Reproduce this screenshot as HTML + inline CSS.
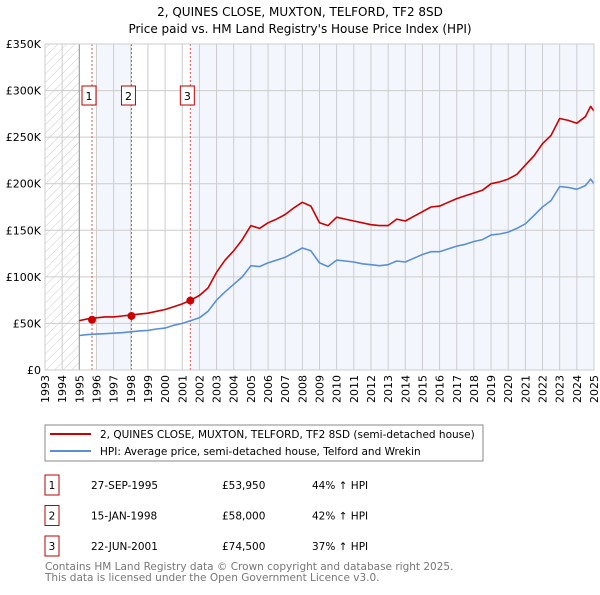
<!DOCTYPE html>
<html><head><meta charset="utf-8"><style>
body{margin:0;background:#fff;}
svg{font-family:"DejaVu Sans","Liberation Sans",sans-serif;}
</style></head><body>
<svg id="c" width="600" height="590" viewBox="0 0 600 590" xmlns="http://www.w3.org/2000/svg">
<defs><pattern id="hatch" width="6" height="6" patternUnits="userSpaceOnUse" patternTransform="rotate(45)"><line x1="0" y1="0" x2="0" y2="6" stroke="#ccc" stroke-width="1"/></pattern></defs>
<text x="300" y="16" text-anchor="middle" font-size="12">2, QUINES CLOSE, MUXTON, TELFORD, TF2 8SD</text>
<text x="300" y="33" text-anchor="middle" font-size="12">Price paid vs. HM Land Registry's House Price Index (HPI)</text>
<g id="plot"></g>
<g id="legend">
<rect x="45" y="425" width="438" height="36" fill="#fff" stroke="#888"/>
<line x1="50" y1="434" x2="91" y2="434" stroke="#cc0000" stroke-width="2"/>
<text x="100" y="438" font-size="10.5">2, QUINES CLOSE, MUXTON, TELFORD, TF2 8SD (semi-detached house)</text>
<line x1="50" y1="451" x2="91" y2="451" stroke="#5b8fd4" stroke-width="2"/>
<text x="100" y="455" font-size="10.5">HPI: Average price, semi-detached house, Telford and Wrekin</text>
</g>
<g id="table" font-size="10.5"></g>
<text x="45" y="570" font-size="10.5" fill="#777">Contains HM Land Registry data © Crown copyright and database right 2025.</text>
<text x="45" y="581" font-size="10.5" fill="#777">This data is licensed under the Open Government Licence v3.0.</text>
</svg>
<script>
const years=[1993,1994,1995,1996,1997,1998,1999,2000,2001,2002,2003,2004,2005,2006,2007,2008,2009,2010,2011,2012,2013,2014,2015,2016,2017,2018,2019,2020,2021,2022,2023,2024,2025];
const yTicks=[0,50000,100000,150000,200000,250000,300000,350000];
const yTickLabels=["£0","£50K","£100K","£150K","£200K","£250K","£300K","£350K"];
const t=[1995.0,1995.5,1996,1996.5,1997,1997.5,1998,1998.5,1999,1999.5,2000,2000.5,2001,2001.5,2002,2002.5,2003,2003.5,2004,2004.5,2005,2005.5,2006,2006.5,2007,2007.5,2008,2008.5,2009,2009.5,2010,2010.5,2011,2011.5,2012,2012.5,2013,2013.5,2014,2014.5,2015,2015.5,2016,2016.5,2017,2017.5,2018,2018.5,2019,2019.5,2020,2020.5,2021,2021.5,2022,2022.5,2023,2023.5,2024,2024.5,2024.8,2025];
const hpi=[37,38,38.5,39,39.5,40,41,42,42.5,44,45,48,50,53,56,63,75,84,92,100,112,111,115,118,121,126,131,128,115,111,118,117,116,114,113,112,113,117,116,120,124,127,127,130,133,135,138,140,145,146,148,152,157,166,175,182,197,196,194,198,205,200];
const price=[53,55,56,57,57,58,59,60,61,63,65,68,71,75,80,88,105,118,128,140,155,152,158,162,167,174,180,176,158,155,164,162,160,158,156,155,155,162,160,165,170,175,176,180,184,187,190,193,200,202,205,210,220,230,243,252,270,268,265,272,283,278];
const saleT=[1995.74,1998.04,2001.47];
const saleP=[53950,58000,74500];
const saleLabels=["1","2","3"];
const saleDates=["27-SEP-1995","15-JAN-1998","22-JUN-2001"];
const salePrices=["£53,950","£58,000","£74,500"];
const saleHpi=["44% ↑ HPI","42% ↑ HPI","37% ↑ HPI"];

const X0=45,X1=594,Y0=370,Y1=44;
const xs=v=>X0+(v-1993)/(2025-1993)*(X1-X0);
const ys=v=>Y0-v/350000*(Y0-Y1);
const NS="http://www.w3.org/2000/svg";
const plot=document.getElementById('plot');
function mk(tag,attrs,parent){const e=document.createElementNS(NS,tag);for(const k in attrs)e.setAttribute(k,attrs[k]);(parent||plot).appendChild(e);return e;}

let r=mk('rect',{x:xs(1993),y:Y1,width:xs(1995)-xs(1993),height:Y0-Y1,fill:'url(#hatch)'});


r=mk('rect',{x:xs(1996),y:Y1,width:xs(1998.04)-xs(1996),height:Y0-Y1,fill:'#f3f7fd'});


r=mk('rect',{x:xs(2001.47),y:Y1,width:xs(2025)-xs(2001.47),height:Y0-Y1,fill:'#f3f7fd'});



years.forEach(y=>{
  const g=mk('line',{x1:xs(y),x2:xs(y),y1:Y1,y2:Y0,stroke:'#ccc','stroke-width':1});
  
  
  const tx=mk('text',{x:0,y:0,'font-size':11,'text-anchor':'end',transform:`translate(${xs(y)+4},${Y0+5}) rotate(-90)`});
  tx.textContent=y;
  
  
});
yTicks.forEach((v,i)=>{
  const g=mk('line',{x1:X0,x2:X1,y1:ys(v),y2:ys(v),stroke:'#ccc','stroke-width':1});
  
  
  const tx=mk('text',{x:X0-4,y:ys(v)+4,'font-size':11,'text-anchor':'end'});
  tx.textContent=yTickLabels[i];
  
  
});
let ax=mk('line',{x1:xs(1995),x2:xs(1995),y1:Y1,y2:Y0,stroke:'#999'});



saleT.forEach((s,i)=>{
  const l=mk('line',{x1:xs(s),x2:xs(s),y1:Y1,y2:Y0,stroke:'#e05050','stroke-dasharray':'2,2','stroke-width':1});
  
  
  const b=mk('rect',{x:xs(s)-10,y:86,width:14,height:19,fill:'#fff',stroke:'#b00'});
  
  
  const tx=mk('text',{x:xs(s)-3,y:100,'font-size':11,'text-anchor':'middle'});
  tx.textContent=saleLabels[i];
  
  
});

const line=(arr,col,name)=>{
  const p=mk('polyline',{points:t.map((v,i)=>xs(v).toFixed(1)+','+ys(arr[i]*1000).toFixed(1)).join(' '),fill:'none',stroke:col,'stroke-width':1.6,'stroke-linejoin':'round'});
  
  
};
line(hpi,'#5b8fd4','hpi-line');
line(price,'#cc0000','price-line');
saleT.forEach((s,i)=>{
  const c=mk('circle',{cx:xs(s),cy:ys(saleP[i]),r:4,fill:'#cc0000'});
  
  
});
let bd=mk('rect',{x:X0,y:Y1,width:X1-X0,height:Y0-Y1,fill:'none',stroke:'#ccc'});



const tb=document.getElementById('table');
saleLabels.forEach((lab,i)=>{
  const y=483+i*30.5;
  const b=mk('rect',{x:45,y:y-8,width:14,height:20,fill:'#fff',stroke:'#b00'},tb);
  
  
  const cols=[[52,lab,'middle'],[91,saleDates[i],'start'],[222,salePrices[i],'start'],[312,saleHpi[i],'start']];
  cols.forEach(c=>{
    const tx=mk('text',{x:c[0],y:y+6,'text-anchor':c[2]},tb);
    tx.textContent=c[1];
    
    
  });
});
</script>
</body></html>
